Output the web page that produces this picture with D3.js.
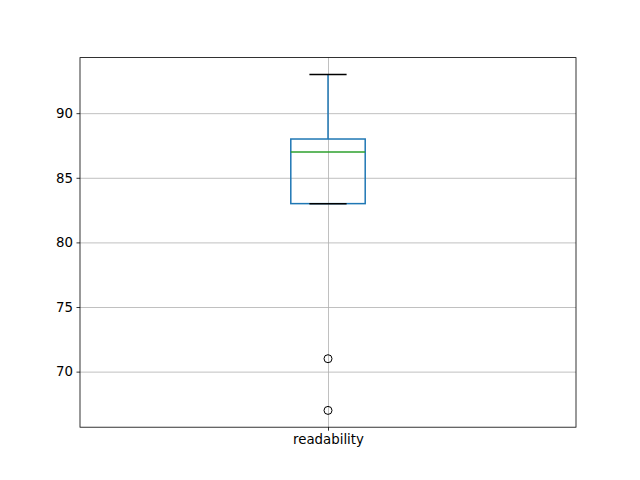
<!DOCTYPE html>
<html>
<head>
<meta charset="UTF-8">
<script src="https://d3js.org/d3.v7.min.js"></script>
<style>
  * { margin: 0; padding: 0; }
  body { background: white; font-family: "DejaVu Sans", sans-serif; }
</style>
</head>
<body>
<div id="chart"></div>
<script>
// box stats
const categories = ["readability"];
const whiskerLow = [83];
const q1 = [83];
const median = [87];
const q3 = [88];
const whiskerHigh = [93];
const outliers = [[71, 67]];
const yTicks = [70, 75, 80, 85, 90];

const W = 640, H = 480;
const margin = { top: 57.6, right: 64, bottom: 52.8, left: 80 };
const width = W - margin.left - margin.right,
      height = H - margin.top - margin.bottom;

const svg = d3.select("#chart").append("svg")
    .attr("width", W).attr("height", H);
const g = svg.append("g")
    .attr("transform", `translate(${margin.left},${margin.top})`);

const x = d3.scaleLinear().domain([0.5, 1.5]).range([0, width]);
const lo = 67, hi = 93, pad = (hi - lo) * 0.05;
const y = d3.scaleLinear().domain([lo - pad, hi + pad]).range([height, 0]);

// grid
g.append("g")
    .call(d3.axisLeft(y).tickValues(yTicks).tickSize(-width).tickFormat(""))
    .call(a => a.select(".domain").remove())
    .selectAll("line").attr("stroke", "#b0b0b0").attr("stroke-width", 0.8);
g.append("g")
    .call(d3.axisBottom(x).tickValues([1]).tickSize(height).tickFormat(""))
    .call(a => a.select(".domain").remove())
    .selectAll("line").attr("stroke", "#b0b0b0").attr("stroke-width", 0.8);

const boxW = x(1.075) - x(0.925);
const capW = boxW / 2;

categories.forEach((c, i) => {
  const cx = x(i + 1);
  const blue = "#1f77b4";
  // whiskers
  g.append("line").attr("x1", cx).attr("x2", cx)
      .attr("y1", y(q3[i])).attr("y2", y(whiskerHigh[i]))
      .attr("stroke", blue).attr("stroke-width", 1.5);
  g.append("line").attr("x1", cx).attr("x2", cx)
      .attr("y1", y(q1[i])).attr("y2", y(whiskerLow[i]))
      .attr("stroke", blue).attr("stroke-width", 1.5);
  // box
  g.append("rect")
      .attr("x", cx - boxW / 2).attr("width", boxW)
      .attr("y", y(q3[i])).attr("height", y(q1[i]) - y(q3[i]))
      .attr("fill", "none").attr("stroke", blue).attr("stroke-width", 1.5);
  // caps
  [whiskerLow[i], whiskerHigh[i]].forEach(v => {
    g.append("line").attr("x1", cx - capW / 2).attr("x2", cx + capW / 2)
        .attr("y1", y(v)).attr("y2", y(v))
        .attr("stroke", "black").attr("stroke-width", 1.5);
  });
  // median
  g.append("line").attr("x1", cx - boxW / 2).attr("x2", cx + boxW / 2)
      .attr("y1", y(median[i])).attr("y2", y(median[i]))
      .attr("stroke", "#2ca02c").attr("stroke-width", 1.5);
  // fliers
  g.selectAll(null).data(outliers[i]).join("circle")
      .attr("cx", cx).attr("cy", d => y(d)).attr("r", 4)
      .attr("fill", "none").attr("stroke", "black").attr("stroke-width", 1);
});

// axes
const yAxis = g.append("g")
    .call(d3.axisLeft(y).tickValues(yTicks).tickSize(3.5).tickPadding(3.5));
const xAxis = g.append("g").attr("transform", `translate(0,${height})`)
    .call(d3.axisBottom(x).tickValues([1]).tickFormat((d, i) => categories[i]).tickSize(3.5).tickPadding(3.5));
[yAxis, xAxis].forEach(a => {
  a.select(".domain").remove();
  a.selectAll("line").attr("stroke", "black").attr("stroke-width", 0.8);
  a.selectAll("text").attr("fill", "black")
      .style("font-family", "DejaVu Sans, sans-serif").style("font-size", "13.33px");
});

// frame
g.append("rect").attr("width", width).attr("height", height)
    .attr("fill", "none").attr("stroke", "black").attr("stroke-width", 0.8);
</script>
</body>
</html>
